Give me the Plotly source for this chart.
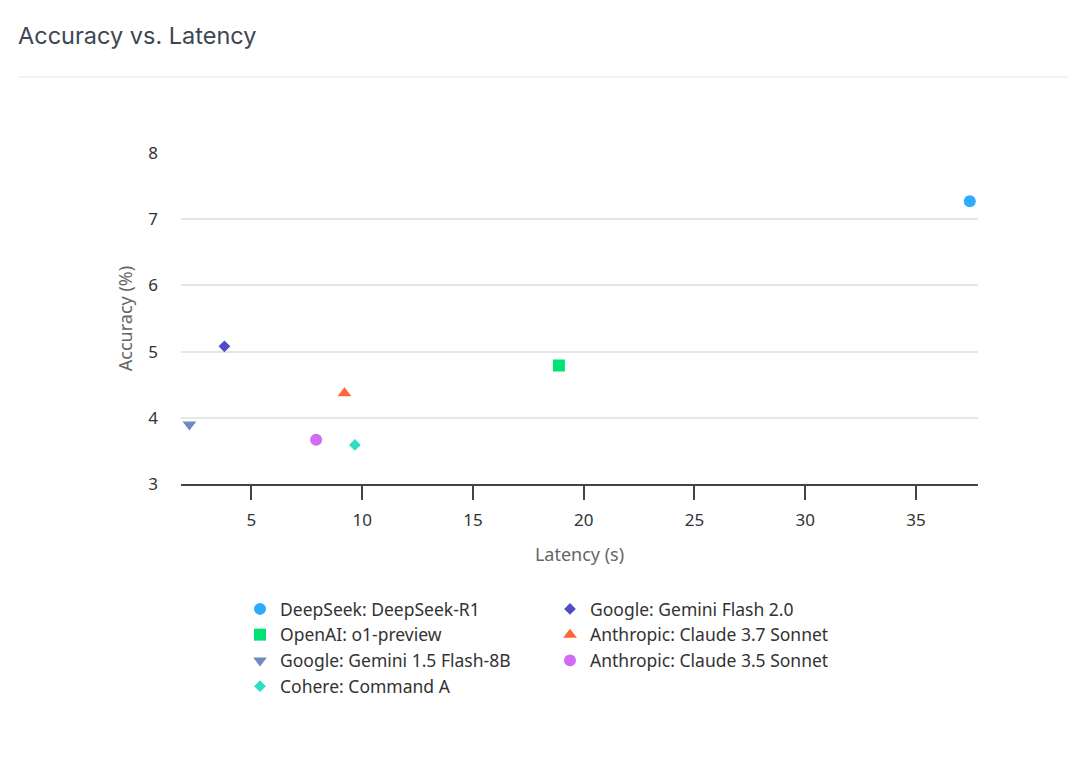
import plotly.graph_objects as go

# models in legend order (row-major, two columns)
models = [
    "DeepSeek: DeepSeek-R1",
    "Google: Gemini Flash 2.0",
    "OpenAI: o1-preview",
    "Anthropic: Claude 3.7 Sonnet",
    "Google: Gemini 1.5 Flash-8B",
    "Anthropic: Claude 3.5 Sonnet",
    "Cohere: Command A",
]
latency = [37.43, 3.78, 18.88, 9.2, 2.2, 7.92, 9.67]
accuracy = [7.27, 5.08, 4.79, 4.37, 3.90, 3.67, 3.59]
colors = ["#2EAAFF", "#4F4FC4", "#00E176", "#FF6633", "#6D8BC0", "#D26BF5", "#2FDCC4"]
symbols = ["circle", "diamond", "square", "triangle-up", "triangle-down", "circle", "diamond"]
sizes = [12, 9, 12, 12, 12, 12, 9]

W, H = 1086, 760
L, T = 173, 145
pw, ph = 797, 331
R, B = W - L - pw, H - T - ph

fig = go.Figure()
for name, x, y, c, s, sz in zip(models, latency, accuracy, colors, symbols, sizes):
    fig.add_trace(go.Scatter(
        x=[x], y=[y], mode="markers", name=name,
        marker=dict(color=c, symbol=s, size=sz, line=dict(width=0)),
    ))

# thin separator under the title (paper coords from pixel positions)
sep_y = (H - B - 69) / ph
fig.add_shape(
    type="line", xref="paper", yref="paper",
    x0=(10 - L) / pw, x1=(1060 - L) / pw,
    y0=sep_y, y1=sep_y,
    line=dict(color="#E8E8E8", width=1),
)

fig.update_layout(
    width=W, height=H,
    margin=dict(l=L, r=R, t=T, b=B),
    paper_bgcolor="white", plot_bgcolor="white",
    font=dict(family="Noto Sans, Open Sans, sans-serif", size=17, color="#333333"),
    title=dict(
        text="Accuracy vs. Latency",
        x=10 / W, xanchor="left", xref="container",
        y=1 - 28 / H, yanchor="middle", yref="container",
        font=dict(family="Inter, Noto Sans, sans-serif", size=23.5, color="#3D4651"),
    ),
    xaxis=dict(
        range=[1.82, 37.8],
        tickvals=[5, 10, 15, 20, 25, 30, 35],
        showgrid=False, zeroline=False,
        showline=True, linecolor="#444444", linewidth=1.5,
        ticks="outside", ticklen=14, tickcolor="#444444", tickwidth=1.5,
        ticklabelstandoff=6,
        tickfont=dict(size=17, color="#333333"),
        title=dict(text="Latency (s)", font=dict(size=18, color="#666666"), standoff=18),
    ),
    yaxis=dict(
        range=[3, 8],
        tickvals=[3, 4, 5, 6, 7, 8],
        showgrid=True, gridcolor="#E6E6E6", gridwidth=1.5,
        zeroline=False, showline=False, ticks="",
        ticklabelstandoff=22,
        tickfont=dict(size=17, color="#333333"),
        title=dict(text="Accuracy (%)", font=dict(size=18, color="#666666"), standoff=10),
    ),
    showlegend=True,
    legend=dict(
        orientation="h",
        x=(232 - L) / pw, xanchor="left",
        yref="container", y=1 - 583 / H, yanchor="top",
        entrywidth=265, entrywidthmode="pixels",
        font=dict(size=17.5, color="#333333"),
        itemclick=False,
    ),
)

fig.write_html("out.html")
